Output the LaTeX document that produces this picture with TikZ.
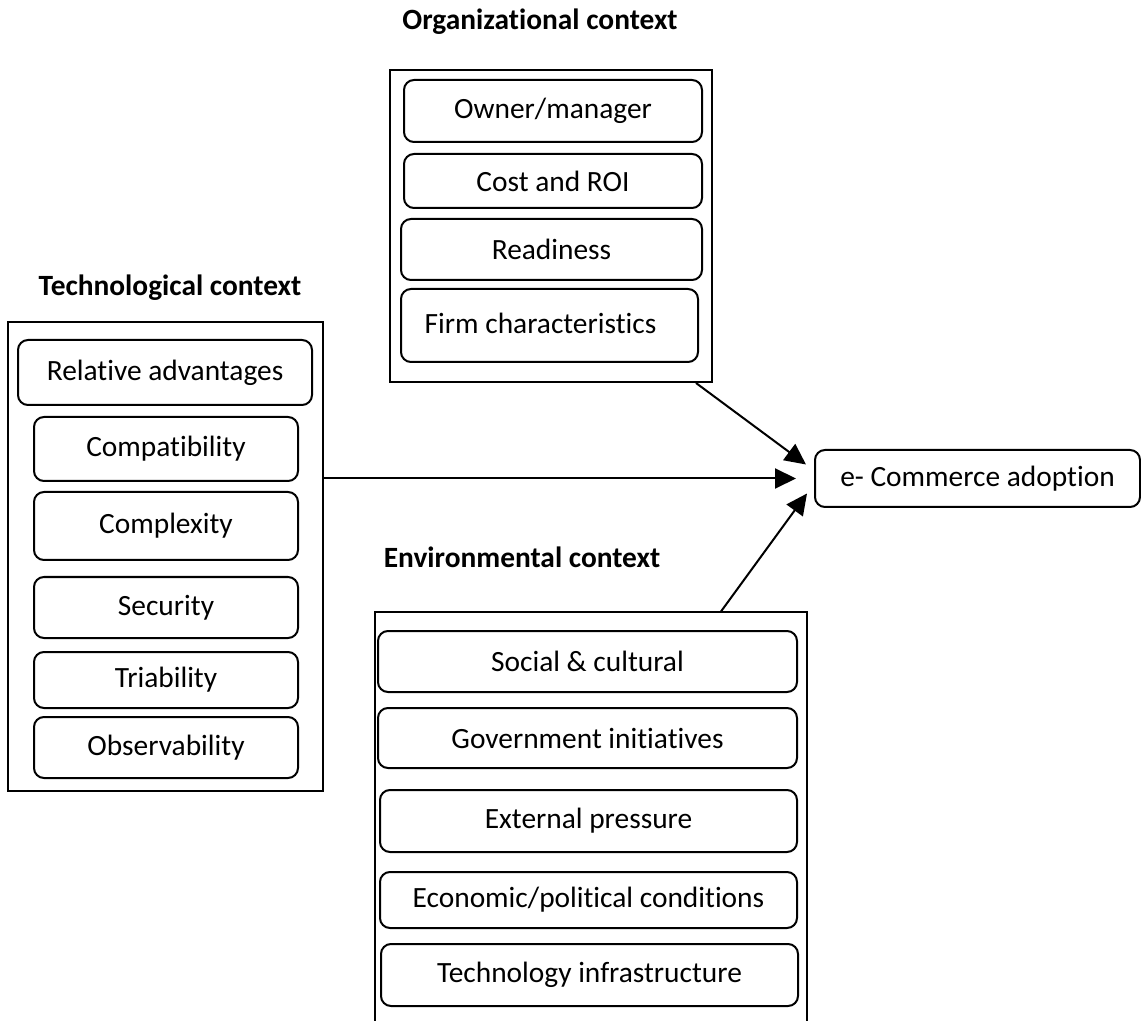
\documentclass[tikz,border=0pt]{standalone}
\usepackage{fontspec}
\setmainfont{Carlito}[Ligatures={NoCommon,NoRequired,NoContextual},Contextuals=NoAlternate]
\usetikzlibrary{calc,arrows.meta}

\tikzset{
  item/.style={draw, line width=1pt, rounded corners=5pt, inner sep=0pt,
    font=\fontsize{14.7}{17}\selectfont},
  frame/.style={draw, line width=1pt, inner sep=0pt},
  heading/.style={font=\fontsize{14.7}{17}\selectfont\bfseries, inner sep=0pt},
  arr/.style={line width=1pt, -{Triangle[length=10.5pt,width=10pt]}},
}

% box spanning (x1,y1)-(x2,y2) in pixel-like units, text centred
% #1 style, #2 name, #3 x1, #4 y1, #5 x2, #6 y2, #7 text
\newcommand\spanbox[7]{%
  \node[#1, minimum width={(#5-#3)*0.5}, minimum height={(#6-#4)*0.5}]
    (#2) at ({(#3+#5)/2},{(#4+#6)/2}) {#7};}

\begin{document}
\begin{tikzpicture}[x=0.5pt, y=-0.5pt]
\useasboundingbox (0,0) rectangle (1141,1021);

% ---------- Organizational context ----------
\node[heading] (orgtitle) at (540,22) {Organizational context};
\spanbox{frame}{org}{390}{70}{712}{382}{}
\spanbox{item}{own}{404}{80}{702}{142}{Owner/manager}
\spanbox{item}{cost}{404}{154}{702}{208}{Cost and ROI}
\spanbox{item}{ready}{401}{219}{702}{280}{Readiness}
\spanbox{item}{firm}{401}{289}{698}{362}{\raisebox{2pt}{Firm characteristics\hspace{9pt}}}

% ---------- Technological context ----------
\node[heading] (techtitle) at (170,288) {Technological context};
\spanbox{frame}{tech}{8}{322}{323}{791}{}
\spanbox{item}{rel}{18}{340}{312}{405}{Relative advantages\hspace{5pt}}
\spanbox{item}{comp}{34}{417}{298}{481}{Compatibility}
\spanbox{item}{cplx}{34}{492}{298}{560}{Complexity}
\spanbox{item}{sec}{34}{577}{298}{638}{Security}
\spanbox{item}{tri}{34}{652}{298}{708}{Triability}
\spanbox{item}{obs}{34}{717}{298}{778}{Observability}

% ---------- Environmental context (frame runs off the bottom) ----------
\node[heading] (envtitle) at (522,557) {Environmental context};
\coordinate (envbl) at (375,1021);
\coordinate (envtl) at (375,612);
\coordinate (envtr) at (807,612);
\coordinate (envbr) at (807,1021);
\draw[line width=1pt] (envbl) -- (envtl) -- (envtr) -- (envbr);
\spanbox{item}{soc}{378}{631}{797}{692}{Social \& cultural}
\spanbox{item}{gov}{378}{708}{797}{768}{Government initiatives}
\spanbox{item}{ext}{380}{790}{797}{852}{External pressure}
\spanbox{item}{eco}{380}{872}{797}{928}{Economic/political conditions}
\spanbox{item}{infra}{381}{944}{798}{1006}{Technology infrastructure}

% ---------- Outcome ----------
\spanbox{item}{ecom}{815}{450}{1140}{507}{e- Commerce adoption}

% ---------- Connectors ----------
\coordinate (orgfoot) at ($(org.south east)+(-17,0)$);
\coordinate (envhead) at ($(envtl)!0.8!(envtr)$);
\draw[arr] (orgfoot) -- ($(ecom.west)+(-8,-14)$);
\draw[arr] (tech.east |- ecom.west) -- ($(ecom.west)+(-18,0)$);
\draw[arr] (envhead) -- ($(ecom.west)+(-7,15)$);
\end{tikzpicture}
\end{document}
